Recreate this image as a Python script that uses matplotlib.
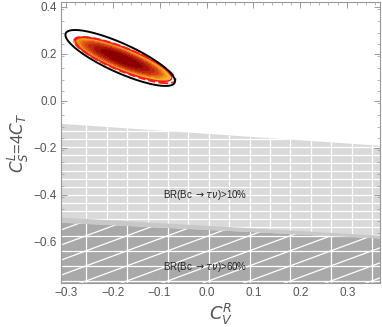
import numpy as np
import matplotlib
matplotlib.use("Agg")
import matplotlib.pyplot as plt
from matplotlib.patches import Polygon

plt.rcParams['font.family'] = ['Liberation Sans', 'DejaVu Sans']
plt.rcParams['mathtext.fontset'] = 'dejavusans'

# ---- data ----
xlim = (-0.31, 0.37)
ylim = (-0.775, 0.42)
x_ticks = [-0.3, -0.2, -0.1, 0.0, 0.1, 0.2, 0.3]
y_ticks = [-0.6, -0.4, -0.2, 0.0, 0.2, 0.4]

# BR constraint boundaries (x, y) at left / right edges
br10_x = [-0.31, 0.37]
br10_y = [-0.098, -0.191]
br60_x = [-0.31, 0.37]
br60_y = [-0.518, -0.585]

# Gaussian fit parameters: center x, center y, sigma x, sigma y, rho
fill_fit = [-0.181, 0.179, 0.050, 0.045, -0.835]
black_fit = [-0.184, 0.182, 0.057, 0.058, -0.825]
red_fit = [-0.177, 0.176, 0.050, 0.0455, -0.835]
red_dash_fit = [-0.174, 0.173, 0.0525, 0.048, -0.84]
fill_levels = [0, 0.9, 1.5, 2.1, 2.6, 3.0, 3.4, 3.8, 4.2]
fill_colors = ['#8c0000', '#a51208', '#bd2810', '#d24016', '#e15b16',
               '#ec7a1a', '#f39a1c', '#f7b51e']
contour_level = 4.2

labels = ['BR(Bc $\\rightarrow\\tau\\nu$)>10%', 'BR(Bc $\\rightarrow\\tau\\nu$)>60%']
label_pos_x = [-0.092, -0.092]
label_pos_y = [-0.40, -0.706]

# ---- figure ----
fig = plt.figure(figsize=(3.82, 3.27), dpi=100)
ax = fig.add_axes([0.160, 0.134, 0.835, 0.860])
ax.set_xlim(*xlim)
ax.set_ylim(*ylim)


def chi2(params, X, Y):
    cx, cy, sx, sy, r = params
    u = (X - cx) / sx
    v = (Y - cy) / sy
    return (u * u - 2 * r * u * v + v * v) / (1 - r * r)


gx = np.linspace(xlim[0], xlim[1], 600)
gy = np.linspace(ylim[0], ylim[1], 600)
X, Y = np.meshgrid(gx, gy)

# light region (BR > 10%)
light_poly = Polygon([(br10_x[0], br10_y[0]), (br10_x[1], br10_y[1]),
                      (xlim[1], ylim[0]), (xlim[0], ylim[0])],
                     closed=True, facecolor='#d9d9d9', edgecolor='none', zorder=1)
ax.add_patch(light_poly)
# dark region (BR > 60%)
dark_poly = Polygon([(br60_x[0], br60_y[0]), (br60_x[1], br60_y[1]),
                     (xlim[1], ylim[0]), (xlim[0], ylim[0])],
                    closed=True, facecolor='#a9a9a9', edgecolor='none', zorder=2)
ax.add_patch(dark_poly)

# mesh lines in light region
lw = 0.9
for yy in np.arange(ylim[0], 0.0, 0.034):
    ln, = ax.plot(xlim, [yy, yy], color='white', lw=lw, zorder=1.5)
    ln.set_clip_path(light_poly)
for xx in np.arange(-0.256, 0.4, 0.0435):
    ln, = ax.plot([xx, xx], [ylim[0], 0.0], color='white', lw=lw, zorder=1.5)
    ln.set_clip_path(light_poly)
# mesh lines in dark region
dx, dy = 0.087, 0.064
for yy in np.arange(ylim[0] + 0.01, -0.4, dy):
    ln, = ax.plot(xlim, [yy, yy], color='white', lw=lw, zorder=2.5)
    ln.set_clip_path(dark_poly)
for xx in np.arange(-0.256, 0.4, dx):
    ln, = ax.plot([xx, xx], [ylim[0], -0.4], color='white', lw=lw, zorder=2.5)
    ln.set_clip_path(dark_poly)
slope = dy / dx
for k in range(-20, 20):
    y0 = ylim[0] + 0.01 + k * dy
    xs = np.array(xlim)
    ln, = ax.plot(xs, y0 + slope * (xs - (-0.256)), color='white', lw=lw, zorder=2.5)
    ln.set_clip_path(dark_poly)
# transitional band
band = Polygon([(br60_x[0], br60_y[0] + 0.022), (br60_x[1], br60_y[1] + 0.012),
                (br60_x[1], br60_y[1]), (br60_x[0], br60_y[0])],
               closed=True, facecolor='#c8c8c8', edgecolor='none', zorder=2.2)
ax.add_patch(band)

# filled likelihood contours
Z = chi2(fill_fit, X, Y)
ax.contourf(X, Y, Z, levels=fill_levels, colors=fill_colors, zorder=3)
ax.contour(X, Y, chi2(red_dash_fit, X, Y), levels=[contour_level], colors='#ff1a1a',
           linewidths=1.4, linestyles='--', zorder=4)
ax.contour(X, Y, chi2(red_fit, X, Y), levels=[contour_level], colors='#ff1a1a',
           linewidths=1.2, zorder=4)
ax.contour(X, Y, chi2(black_fit, X, Y), levels=[contour_level], colors='black',
           linewidths=1.4, zorder=5)

for t, tx, ty in zip(labels, label_pos_x, label_pos_y):
    ax.text(tx, ty, t, fontsize=7, color='#222222', va='center', ha='left', zorder=6)

# axes styling
for s in ax.spines.values():
    s.set_color('#999999')
    s.set_linewidth(0.8)
ax.set_xticks(x_ticks)
ax.set_yticks(y_ticks)
ax.set_xticklabels(['\u22120.3', '\u22120.2', '\u22120.1', '0.0', '0.1', '0.2', '0.3'])
ax.set_yticklabels(['\u22120.6', '\u22120.4', '\u22120.2', '0.0', '0.2', '0.4'])
ax.set_xticks(np.arange(-0.3, 0.37, 0.02), minor=True)
ax.set_yticks(np.arange(-0.76, 0.42, 0.05), minor=True)
ax.tick_params(which='both', direction='in', top=True, right=True, color='#999999')
ax.tick_params(which='major', length=4, width=0.7, labelsize=8.5, labelcolor='#555555', pad=3)
ax.tick_params(which='minor', length=2, width=0.5)
ax.set_xlabel('$C_V^R$', fontsize=13, color='#555555', labelpad=2)
ax.set_ylabel('$C_S^L$=4$C_T$', fontsize=12, color='#555555', labelpad=2)

fig.savefig('out.png', dpi=100)
